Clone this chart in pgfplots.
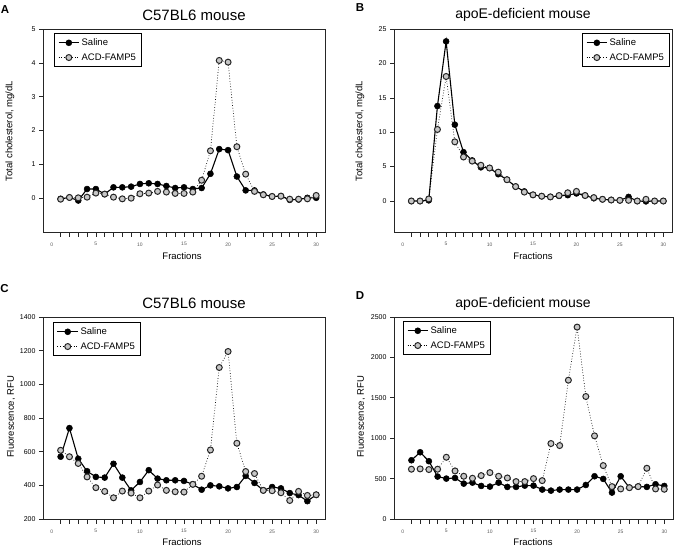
\documentclass[border=0pt]{standalone}
\usepackage{pgfplots}
\usepackage{pgfplotstable}
\pgfplotsset{compat=1.18}
\usepackage{fontspec}
\setmainfont{Liberation Sans}

\pgfplotstableread{
x s a
1 -0.02 -0.03
2 0.02 0.02
3 -0.07 0.01
4 0.27 0.03
5 0.27 0.15
6 0.12 0.12
7 0.32 0.03
8 0.32 -0.02
9 0.34 0.00
10 0.42 0.13
11 0.44 0.15
12 0.42 0.20
13 0.36 0.18
14 0.30 0.14
15 0.32 0.14
16 0.27 0.18
17 0.30 0.53
18 0.72 1.40
19 1.45 4.07
20 1.42 4.02
21 0.64 1.52
22 0.23 0.71
23 0.23 0.20
24 0.11 0.10
25 0.05 0.05
26 0.06 0.06
27 -0.05 -0.03
28 -0.04 -0.03
29 0.01 -0.02
30 0.01 0.08
}\dataA

\pgfplotstableread{
x s a
1 0 0
2 0 0
3 0.1 0.3
4 13.8 10.4
5 23.2 18.1
6 11.1 8.6
7 7.1 6.4
8 5.9 5.8
9 4.9 5.2
10 4.8 4.8
11 3.9 4.2
12 3.1 3.1
13 2.1 2.1
14 1.4 1.3
15 0.9 0.9
16 0.7 0.7
17 0.6 0.6
18 0.75 0.8
19 0.85 1.2
20 1.1 1.4
21 0.8 0.8
22 0.4 0.5
23 0.25 0.25
24 0.15 0.15
25 0.1 0.1
26 0.6 0.1
27 0 0
28 -0.05 0.25
29 0 0
30 0 0
}\dataB

\pgfplotstableread{
x s a
1 570 608
2 740 570
3 558 530
4 484 450
5 450 386
6 446 364
7 528 326
8 446 366
9 370 354
10 420 326
11 490 366
12 440 402
13 430 370
14 430 362
15 426 360
16 406 406
17 374 454
18 400 610
19 394 1100
20 382 1195
21 390 650
22 456 482
23 414 470
24 370 370
25 390 368
26 382 356
27 354 310
28 342 364
29 306 340
30 344 344
}\dataC

\pgfplotstableread{
x s a
1 727 616
2 826 620
3 715 612
4 525 616
5 500 764
6 508 595
7 438 529
8 450 504
9 409 537
10 401 574
11 450 529
12 397 508
13 397 463
14 413 463
15 413 500
16 364 475
17 351 934
18 364 909
19 364 1718
20 364 2375
21 421 1516
22 529 1029
23 496 661
24 327 401
25 529 372
26 388 388
27 401 401
28 397 628
29 430 372
30 409 368
}\dataD

\pgfplotsset{
  panel/.style={
    scale only axis, anchor=south west,
    xmin=-1, xmax=31,
    axis line style={line width=0.9pt, black!85},
    tick align=outside,
    xtick={0,5,...,30},
    minor xtick={1,...,30},
    xtick pos=bottom, ytick pos=left,
    major x tick style={draw=none},
    every tick/.style={black!85, line width=0.6pt},
    minor tick length=5pt, major tick length=4pt,
    x tick label style={font=\fontsize{5}{6}\selectfont, text=black!65},
    xticklabel shift=3pt,
    y tick label style={font=\fontsize{7}{8}\selectfont},
    /pgf/number format/assume math mode=true,
    /pgf/number format/1000 sep={},
    scaled ticks=false,
    legend cell align=left,
    legend style={draw=black, line width=1.1pt, font=\fontsize{9.5}{11}\selectfont,
      inner xsep=3.5pt, inner ysep=3pt, row sep=2.5pt},
    legend image code/.code={\draw[mark repeat=2,mark phase=2] plot coordinates {(0cm,0cm) (0.36cm,0cm) (0.72cm,0cm)};},
  },
  sal/.style={black, solid, line width=1.1pt, mark=*, mark size=3pt, mark options={solid, fill=black, draw=black, line width=0.5pt}},
  acd/.style={black, dotted, line width=0.7pt, mark=*, mark size=3pt, mark options={solid, fill=gray!45, draw=black!85, line width=1pt}},
}

\begin{document}
\begin{tikzpicture}
\useasboundingbox (0,0) rectangle (677pt,548pt);

% Panel A
\begin{axis}[panel, at={(43pt,316pt)}, width=282pt, height=203pt,
  ymin=-1, ymax=5, ytick={0,...,5},
  legend style={at={(axis description cs:0.039,0.98)}, anchor=north west}]
\addplot[sal] table[x=x,y=s]{\dataA};
\addplot[acd] table[x=x,y=a]{\dataA};
\legend{Saline, ACD-FAMP5}
\end{axis}

% Panel B
\begin{axis}[panel, at={(394pt,316pt)}, width=278pt, height=203pt,
  ymin=-4.5, ymax=25, ytick={0,5,...,25},
  legend style={at={(axis description cs:0.993,0.98)}, anchor=north east}]
\addplot[sal] table[x=x,y=s]{\dataB};
\addplot[acd] table[x=x,y=a]{\dataB};
\legend{Saline, ACD-FAMP5}
\end{axis}

% Panel C
\begin{axis}[panel, at={(43pt,29pt)}, width=282pt, height=202pt,
  ymin=200, ymax=1400, ytick={200,400,...,1400},
  legend style={at={(axis description cs:0.035,0.975)}, anchor=north west}]
\addplot[sal] table[x=x,y=s]{\dataC};
\addplot[acd] table[x=x,y=a]{\dataC};
\legend{Saline, ACD-FAMP5}
\end{axis}

% Panel D
\begin{axis}[panel, at={(394pt,29pt)}, width=279pt, height=202pt,
  ymin=0, ymax=2500, ytick={0,500,...,2500},
  legend style={at={(axis description cs:0.032,0.98)}, anchor=north west}]
\addplot[sal] table[x=x,y=s]{\dataD};
\addplot[acd] table[x=x,y=a]{\dataD};
\legend{Saline, ACD-FAMP5}
\end{axis}

% Titles
\node[font=\fontsize{15}{17}\selectfont] at (194pt,{548pt-15pt}) {C57BL6 mouse};
\node[font=\fontsize{14}{16}\selectfont] at (523pt,{548pt-15pt}) {apoE-deficient mouse};
\node[font=\fontsize{15}{17}\selectfont] at (194pt,{548pt-303pt}) {C57BL6 mouse};
\node[font=\fontsize{14}{16}\selectfont] at (523pt,{548pt-304pt}) {apoE-deficient mouse};

% Panel letters
\node[font=\fontsize{11.5}{12}\selectfont\bfseries] at (5pt,{548pt-9.5pt}) {A};
\node[font=\fontsize{11.5}{12}\selectfont\bfseries] at (360pt,{548pt-8pt}) {B};
\node[font=\fontsize{11.5}{12}\selectfont\bfseries] at (4.5pt,{548pt-289pt}) {C};
\node[font=\fontsize{11.5}{12}\selectfont\bfseries] at (360pt,{548pt-296pt}) {D};

% Axis labels
\node[font=\fontsize{9.5}{11}\selectfont] at (182pt,{548pt-256pt}) {Fractions};
\node[font=\fontsize{9.5}{11}\selectfont] at (533pt,{548pt-256pt}) {Fractions};
\node[font=\fontsize{9.5}{11}\selectfont] at (182pt,{548pt-542pt}) {Fractions};
\node[font=\fontsize{9.5}{11}\selectfont] at (533pt,{548pt-542pt}) {Fractions};
\node[font=\fontsize{9.5}{11}\selectfont, rotate=90] at (10pt,{548pt-131pt}) {Total cholesterol, mg/dL};
\node[font=\fontsize{9.5}{11}\selectfont, rotate=90] at (360pt,{548pt-131pt}) {Total cholesterol, mg/dL};
\node[font=\fontsize{9.5}{11}\selectfont, rotate=90] at (11pt,{548pt-417pt}) {Fluorescence, RFU};
\node[font=\fontsize{9.5}{11}\selectfont, rotate=90] at (361pt,{548pt-417pt}) {Fluorescence, RFU};
\end{tikzpicture}
\end{document}
